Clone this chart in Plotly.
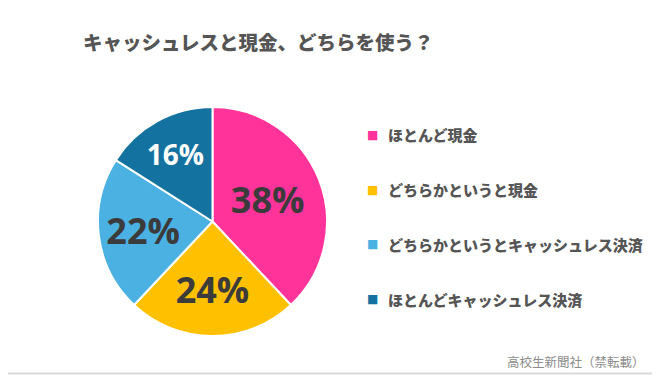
import plotly.graph_objects as go

labels = ["ほとんど現金", "どちらかというと現金", "どちらかというとキャッシュレス決済", "ほとんどキャッシュレス決済"]
values = [38, 24, 22, 16]
colors = ["#FF3399", "#FFC000", "#4BB0E2", "#13729F"]
text_colors = ["#3B3B3B", "#3B3B3B", "#3B3B3B", "#FFFFFF"]
text_sizes = [36, 36, 36, 28]
title_text = "キャッシュレスと現金、どちらを使う？"
source_text = "高校生新聞社（禁転載）"

# The page body has an 8px default margin; lay the figure out in page pixels.
OFF = 8
W, H = 660 - OFF, 376 - OFF


def px(x):
    return (x - OFF) / W


def py(y):
    return 1 - (y - OFF) / H


cx, cy, r = 212.5, 221.5, 114.5

fig = go.Figure()
fig.add_trace(go.Pie(
    labels=labels,
    values=values,
    sort=False,
    direction="clockwise",
    rotation=0,
    marker=dict(colors=colors, line=dict(color="#FFFFFF", width=2)),
    texttemplate="%{value}%",
    textposition="inside",
    insidetextorientation="horizontal",
    textfont=dict(family="Open Sans, Noto Sans, sans-serif", size=text_sizes, color=text_colors, weight="bold"),
    hoverinfo="skip",
    showlegend=False,
    domain=dict(x=[px(cx - r), px(cx + r)], y=[py(cy + r), py(cy - r)]),
))

annotations = [
    dict(text=title_text, x=px(258), y=py(42), xref="paper", yref="paper",
         showarrow=False, xanchor="center", yanchor="middle",
         font=dict(family="Noto Sans CJK JP", size=19.5, color="#555555", weight=900)),
    dict(text=source_text, x=px(647), y=py(361), xref="paper", yref="paper",
         showarrow=False, xanchor="right", yanchor="middle",
         font=dict(family="Noto Sans CJK JP", size=12.5, color="#8C8C8C")),
]
leg_y0, leg_dy = 135, 54.7
for i, (lab, col) in enumerate(zip(labels, colors)):
    yy = py(leg_y0 + i * leg_dy)
    annotations.append(dict(text="■", x=px(372), y=yy, xref="paper", yref="paper", showarrow=False,
                            xanchor="center", yanchor="middle",
                            font=dict(family="DejaVu Sans", size=12, color=col)))
    annotations.append(dict(text=lab, x=px(386), y=yy, xref="paper", yref="paper",
                            showarrow=False, xanchor="left", yanchor="middle",
                            font=dict(family="Noto Sans CJK JP", size=15, color="#555555", weight=900)))

fig.update_layout(
    width=W, height=H,
    margin=dict(l=0, r=0, t=0, b=0),
    paper_bgcolor="#FFFFFF",
    plot_bgcolor="#FFFFFF",
    annotations=annotations,
    shapes=[
        dict(type="line", xref="paper", yref="paper", x0=px(657.5), x1=px(657.5), y0=py(374), y1=1,
             line=dict(color="#D9D9D9", width=2)),
        dict(type="line", xref="paper", yref="paper", x0=0, x1=px(658), y0=py(373.5), y1=py(373.5),
             line=dict(color="#D9D9D9", width=2)),
    ],
)

fig.write_html("out.html")
